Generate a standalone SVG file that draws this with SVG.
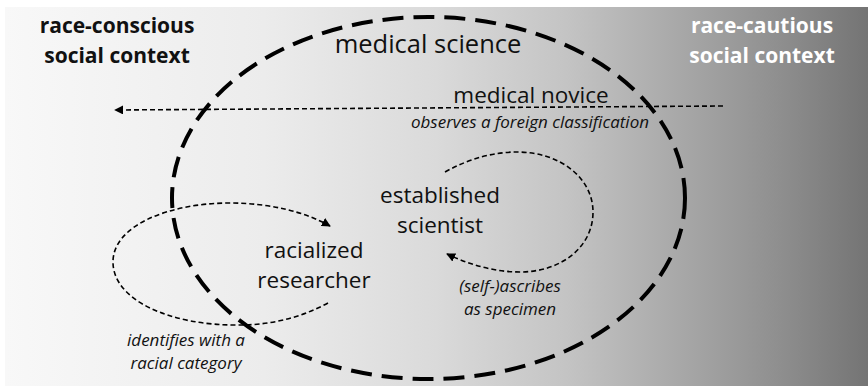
<svg xmlns="http://www.w3.org/2000/svg" width="868" height="389" viewBox="0 0 868 389">
  <defs>
    <linearGradient id="bg" x1="0" y1="0" x2="1" y2="0">
      <stop offset="0" stop-color="#f8f8f8"/>
      <stop offset="0.3" stop-color="#ececec"/>
      <stop offset="0.5" stop-color="#dadada"/>
      <stop offset="0.65" stop-color="#c4c4c4"/>
      <stop offset="0.8" stop-color="#a4a4a4"/>
      <stop offset="0.9" stop-color="#8e8e8e"/>
      <stop offset="1" stop-color="#747474"/>
    </linearGradient>
    <marker id="arr" viewBox="0 0 10 10" refX="9" refY="5" markerWidth="9" markerHeight="9" markerUnits="userSpaceOnUse" orient="auto">
      <path d="M0,0 L10,5 L0,10 z" fill="#000"/>
    </marker>
    <style>
      .t { font-family: "Open Sans", "Liberation Sans", sans-serif; fill: #111; text-anchor: middle; }
      .ctx { font-weight: bold; font-size: 21px; }
      .node { font-size: 22.5px; }
      .lab { font-style: italic; font-size: 17px; }
      .flow { fill: none; stroke: #000; stroke-width: 1.6; stroke-dasharray: 5 3; }
    </style>
  </defs>
  <rect x="0" y="0" width="868" height="389" fill="#fff"/>
  <rect x="5" y="7" width="863" height="379" fill="url(#bg)"/>

  <g id="context-left">
    <text class="t ctx" x="117" y="33">race-conscious</text>
    <text class="t ctx" x="117" y="63">social context</text>
  </g>
  <g id="context-right">
    <text class="t ctx" x="762" y="33" style="fill:#fff">race-cautious</text>
    <text class="t ctx" x="762" y="63" style="fill:#fff">social context</text>
  </g>

  <g id="medical-science">
    <ellipse cx="428.5" cy="198" rx="256.5" ry="181" fill="none" stroke="#000" stroke-width="4" stroke-dasharray="21 10"/>
    <text class="t" x="428" y="53" style="font-size:25.5px">medical science</text>
  </g>

  <g id="connectors">
    <path class="flow" d="M723,106 L115,110" marker-end="url(#arr)"/>
    <path class="flow" d="M328,303 C300,318 270,325 240,325 C170,326 113,300 113,262 C113,225 170,203 230,203 C270,203 305,212 330,226" marker-end="url(#arr)"/>
    <path class="flow" d="M445,172 C470,158 495,152 517,152 C560,152 593,178 593,212 C593,248 560,272 520,272 C495,272 470,265 447,254" marker-end="url(#arr)"/>
  </g>

  <g id="medical-novice">
    <text class="t node" x="531" y="103">medical novice</text>
    <text class="t lab" x="530" y="128">observes a foreign classification</text>
  </g>
  <g id="established-scientist">
    <text class="t node" x="440" y="203">established</text>
    <text class="t node" x="440" y="233">scientist</text>
  </g>
  <g id="racialized-researcher">
    <text class="t node" x="314" y="258">racialized</text>
    <text class="t node" x="314" y="288">researcher</text>
  </g>
  <g id="label-identifies">
    <text class="t lab" x="186" y="346">identifies with a</text>
    <text class="t lab" x="186" y="369">racial category</text>
  </g>
  <g id="label-ascribes">
    <text class="t lab" x="510" y="292">(self-)ascribes</text>
    <text class="t lab" x="510" y="315">as specimen</text>
  </g>
</svg>
